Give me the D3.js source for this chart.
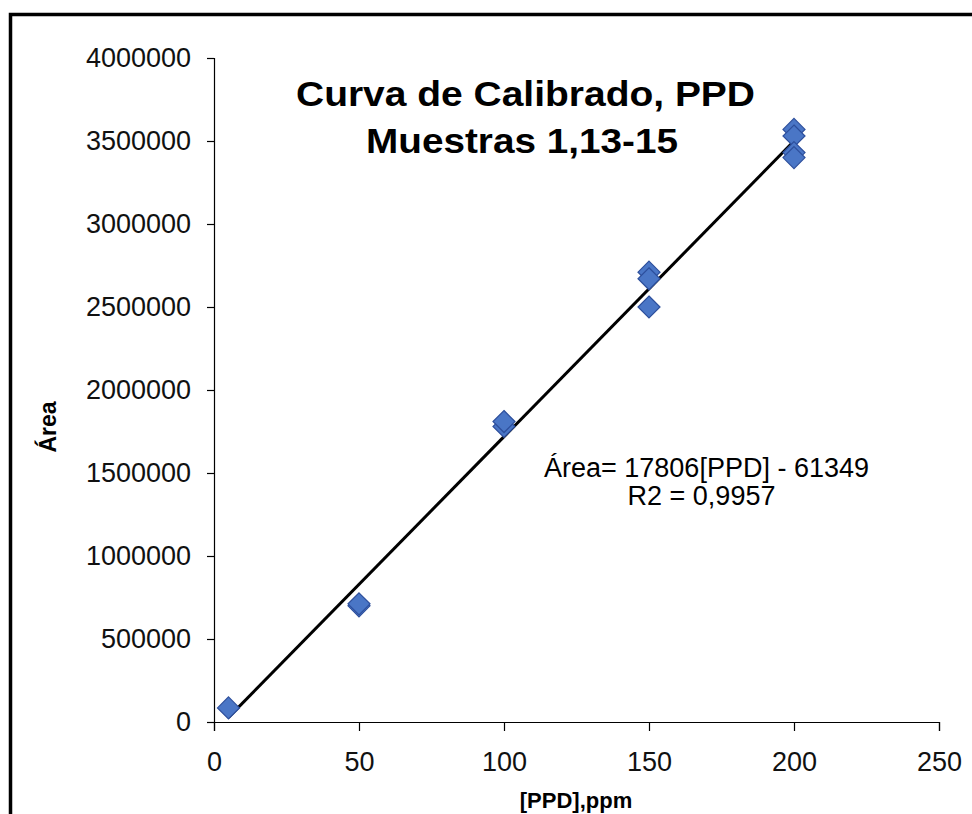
<!DOCTYPE html>
<html>
<head>
<meta charset="utf-8">
<script src="https://cdn.jsdelivr.net/npm/d3@7"></script>
<style>
  html, body { margin: 0; padding: 0; background: #fff; }
  svg { display: block; font-family: "Liberation Sans", Arial, sans-serif; }
</style>
</head>
<body>
<svg id="chart" width="972" height="814"></svg>
<script>
// Calibration standards: concentration of PPD (ppm) and measured peak area
const concentrations = [5, 50, 50, 100, 100, 150, 150, 150, 200, 200, 200, 200];
const areas = [85000, 700000, 712000, 1780000, 1810000, 2710000, 2670000, 2500000, 3570000, 3530000, 3430000, 3400000];

// Least-squares fit reported on the chart
const slope = 17806;
const intercept = -61349;
const r2Label = "0,9957";

const xTicks = [0, 50, 100, 150, 200, 250];
const yTicks = [0, 500000, 1000000, 1500000, 2000000, 2500000, 3000000, 3500000, 4000000];

const titleLines = ["Curva de Calibrado, PPD", "Muestras 1,13-15"];
const xTitle = "[PPD],ppm";
const yTitle = "Área";

const svg = d3.select("#chart");

// Outer frame (top and left edges visible inside the view)
svg.append("rect")
  .attr("x", 10.5).attr("y", 14.5)
  .attr("width", 1000).attr("height", 900)
  .attr("fill", "#fff")
  .attr("stroke", "#000").attr("stroke-width", 3.5);

const x = d3.scaleLinear().domain([0, 250]).range([214, 939]);
const y = d3.scaleLinear().domain([0, 4000000]).range([722, 58]);

// Y axis
const yAxis = svg.append("g")
  .attr("transform", `translate(${x(0)},0)`)
  .call(d3.axisLeft(y).tickValues(yTicks).tickFormat(d3.format("d")).tickSize(7).tickPadding(16));

// X axis
const xAxis = svg.append("g")
  .attr("transform", `translate(0,${y(0)})`)
  .call(d3.axisBottom(x).tickValues(xTicks).tickFormat(d3.format("d")).tickSize(9).tickPadding(21));

[yAxis, xAxis].forEach(g => {
  g.select(".domain").attr("stroke", "#000").attr("stroke-width", 1.2);
  g.selectAll(".tick line").attr("stroke", "#000").attr("stroke-width", 1.2);
  g.selectAll(".tick text")
    .attr("fill", "#111")
    .style("font-family", "'Liberation Sans', Arial, sans-serif")
    .style("font-size", "27px");
});

// Trend line over the calibrated range
const xMin = d3.min(concentrations), xMax = d3.max(concentrations);
svg.append("line")
  .attr("x1", x(xMin)).attr("y1", y(slope * xMin + intercept))
  .attr("x2", x(xMax)).attr("y2", y(slope * xMax + intercept))
  .attr("stroke", "#000").attr("stroke-width", 3);

// Diamond markers
const r = 11;
svg.append("g")
  .selectAll("path")
  .data(concentrations.map((c, i) => ({ c, a: areas[i] })))
  .join("path")
  .attr("transform", d => `translate(${x(d.c)},${y(d.a)})`)
  .attr("d", `M0,${-r}L${r},0L0,${r}L${-r},0Z`)
  .attr("fill", "#4a76c6")
  .attr("stroke", "#2d4f9c")
  .attr("stroke-width", 1.2);

// Title
svg.append("text")
  .attr("x", 525.5).attr("y", 106)
  .attr("text-anchor", "middle")
  .attr("font-weight", "bold").attr("font-size", 35)
  .attr("textLength", 459).attr("lengthAdjust", "spacingAndGlyphs")
  .text(titleLines[0]);
svg.append("text")
  .attr("x", 522).attr("y", 153)
  .attr("text-anchor", "middle")
  .attr("font-weight", "bold").attr("font-size", 35)
  .attr("textLength", 312).attr("lengthAdjust", "spacingAndGlyphs")
  .text(titleLines[1]);

// Equation annotation
svg.append("text")
  .attr("x", 706.5).attr("y", 477)
  .attr("text-anchor", "middle")
  .attr("font-size", 27)
  .text(`Área= ${slope}[PPD] - ${Math.abs(intercept)}`);
svg.append("text")
  .attr("x", 701.5).attr("y", 505)
  .attr("text-anchor", "middle")
  .attr("font-size", 27)
  .text(`R2 = ${r2Label}`);

// Axis titles
svg.append("text")
  .attr("transform", "translate(56,427) rotate(-90)")
  .attr("text-anchor", "middle")
  .attr("font-weight", "bold").attr("font-size", 23)
  .text(yTitle);
svg.append("text")
  .attr("x", 576).attr("y", 808)
  .attr("text-anchor", "middle")
  .attr("font-weight", "bold").attr("font-size", 22)
  .text(xTitle);
</script>
</body>
</html>
